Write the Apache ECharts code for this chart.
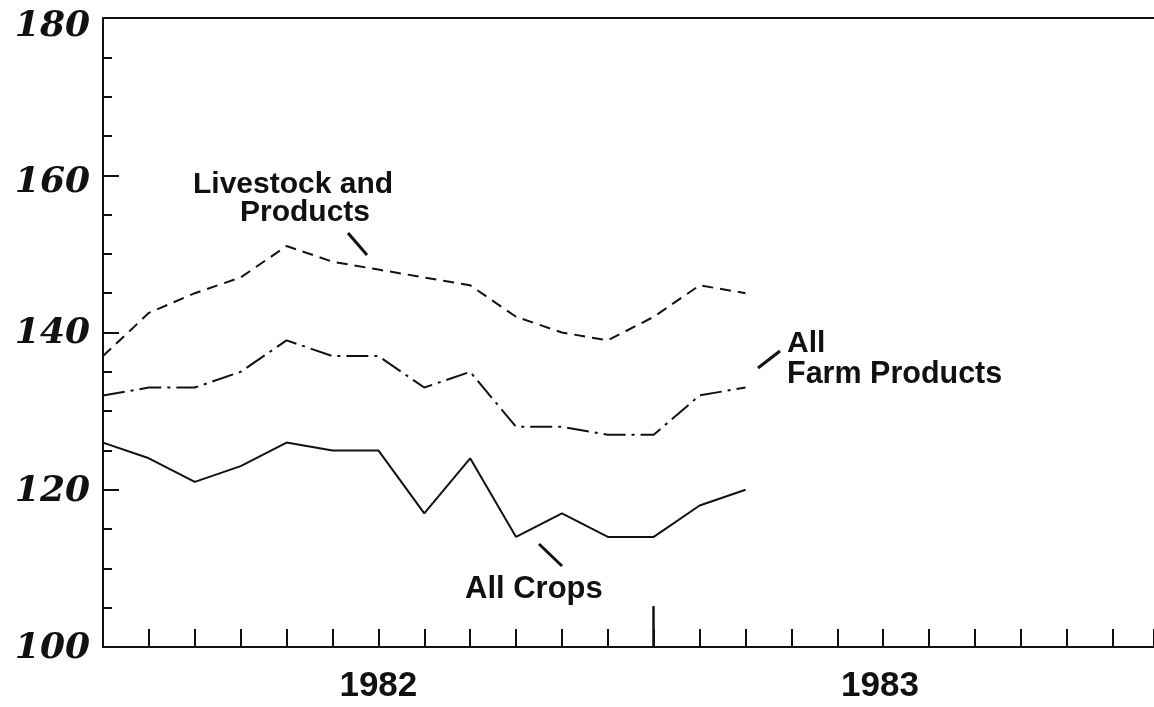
<!DOCTYPE html>
<html>
<head>
<meta charset="utf-8">
<script src="https://cdn.jsdelivr.net/npm/echarts@6/dist/echarts.min.js"></script>
<style>html,body{margin:0;padding:0;background:#fff}#c{width:1154px;height:707px}</style>
</head>
<body>
<div id="c"></div>
<script>
// months since Jan 1982 (0 = Jan 1982)
const months = [0,1,2,3,4,5,6,7,8,9,10,11,12,13,14];
const livestock = [137,142.5,145,147,151,149,148,147,146,142,140,139,142,146,145];
const farm      = [132,133,133,135,139,137,137,133,135,128,128,127,127,132,133];
const crops     = [126,124,121,123,126,125,125,117,124,114,117,114,114,118,120];
const yearLabels = ['1982','1983'];
const yearPositions = [6, 16.93];
const yTicks = [100,120,140,160,180];

const pair = arr => months.map((m,i)=>[m,arr[i]]);
const chart = echarts.init(document.getElementById('c'));
const black = '#111';
const yFont = {fontFamily:'DejaVu Serif',fontStyle:'italic',fontWeight:'bold',fontSize:36,color:black};
chart.setOption({
  animation:false,
  backgroundColor:'#fff',
  grid:{left:103,right:0,top:18,bottom:60,containLabel:false},
  xAxis:[{
    type:'value',min:0,max:22.9,interval:1,
    axisLine:{show:true,lineStyle:{color:black,width:2}},
    axisTick:{show:true,inside:true,length:18,lineStyle:{color:black,width:2}},
    axisLabel:{show:true,customValues:yearPositions,margin:22,
      formatter:v=>{const i=yearPositions.indexOf(v);return i>=0?yearLabels[i]:'';},
      fontFamily:'Liberation Sans',fontWeight:'bold',fontSize:35,color:black},
    splitLine:{show:false}
  },{
    type:'value',min:0,max:22.9,position:'top',
    axisLine:{show:true,lineStyle:{color:black,width:2}},
    axisTick:{show:false},axisLabel:{show:false},splitLine:{show:false}
  }],
  yAxis:{
    type:'value',min:100,max:180,interval:20,
    axisLine:{show:true,lineStyle:{color:black,width:2}},
    axisTick:{show:true,inside:true,length:16,lineStyle:{color:black,width:2}},
    minorTick:{show:true,splitNumber:4,length:9,lineStyle:{color:black,width:2}},
    axisLabel:{margin:13,
      formatter:v=>v===180?'{t|'+v+'}':(v===160?'{s|'+v+'}':'{n|'+v+'}'),
      rich:{
        t:Object.assign({padding:[18,0,0,0]},yFont),
        s:Object.assign({padding:[14,0,0,0]},yFont),
        n:Object.assign({padding:[3,0,0,0]},yFont)
      }},
    splitLine:{show:false}
  },
  series:[
    {name:'Livestock and Products',type:'line',data:pair(livestock),showSymbol:false,
     lineStyle:{color:black,width:2,type:[11,7]}},
    {name:'All Farm Products',type:'line',data:pair(farm),showSymbol:false,
     lineStyle:{color:black,width:2,type:[22,6,3,6]}},
    {name:'All Crops',type:'line',data:pair(crops),showSymbol:false,
     lineStyle:{color:black,width:2,type:'solid'},
     markLine:{silent:true,symbol:'none',label:{show:false},
       lineStyle:{color:black,width:2.5,type:'solid'},
       data:[[{coord:[12,100]},{coord:[12,105.2]}]]}}
  ],
  graphic:[
    {type:'text',style:{text:'Livestock and',x:293,y:185,textAlign:'center',textVerticalAlign:'middle',font:'bold 30px "Liberation Sans"',fill:black}},
    {type:'text',style:{text:'Products',x:305,y:213,textAlign:'center',textVerticalAlign:'middle',font:'bold 30px "Liberation Sans"',fill:black}},
    {type:'line',shape:{x1:348,y1:233,x2:367,y2:255},style:{stroke:black,lineWidth:3}},
    {type:'text',style:{text:'All Crops',x:465,y:589,textAlign:'left',textVerticalAlign:'middle',font:'bold 31px "Liberation Sans"',fill:black}},
    {type:'line',shape:{x1:539,y1:544,x2:562,y2:566},style:{stroke:black,lineWidth:3}},
    {type:'text',style:{text:'All',x:787,y:344,textAlign:'left',textVerticalAlign:'middle',font:'bold 30px "Liberation Sans"',fill:black}},
    {type:'text',style:{text:'Farm Products',x:787,y:375,textAlign:'left',textVerticalAlign:'middle',font:'bold 30.5px "Liberation Sans"',fill:black}},
    {type:'line',shape:{x1:758,y1:368,x2:780,y2:351},style:{stroke:black,lineWidth:3}}
  ]
});
</script>
</body>
</html>
